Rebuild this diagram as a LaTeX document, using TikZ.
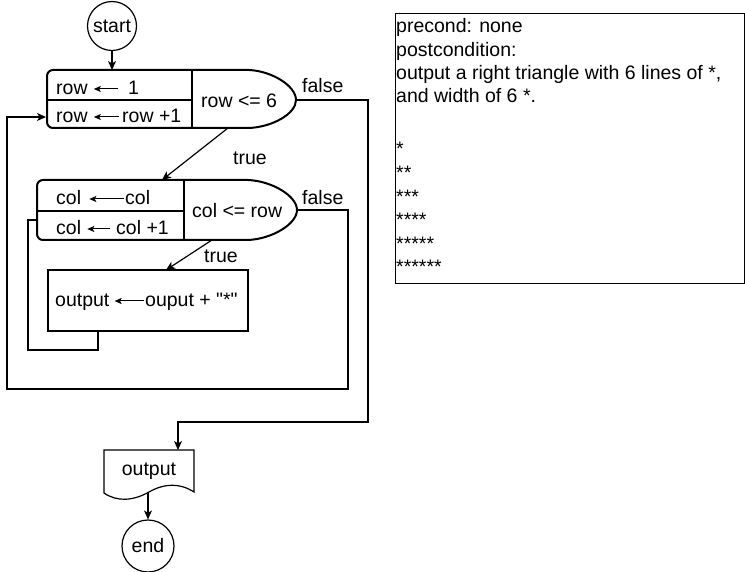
\documentclass[tikz,border=0pt]{standalone}
\usepackage{fontspec}
\setmainfont{Liberation Sans}[Ligatures=TeXOff]
\usetikzlibrary{arrows.meta,calc}
\begin{document}
\begin{tikzpicture}[x=1pt,y=-1pt,
  font=\fontsize{19.5}{23.4}\selectfont,
  line/.style={line width=1.2pt},
  flow/.style={line width=1.2pt, -{Stealth[length=9pt,width=8pt,inset=2.5pt]}},
  loopline/.style={line width=2pt, line join=round},
  txt/.style={inner sep=0pt, anchor=base west, text height=15pt, text depth=3pt},
  tarrow/.style={line width=1pt, -{Stealth[length=7pt,width=6pt,inset=1.5pt]}},
  term/.style={draw, line width=1.2pt, circle, inner sep=0pt},
]
\useasboundingbox (0,0) rectangle (745,572);

% ---------- start ----------
\node[term, minimum size=49pt] (start) at (112,26) {start};
\coordinate (A-in) at (112,70);
\draw[flow] (start) -- (A-in);

% ---------- outer loop: row ----------
\draw[loopline] (249,70) [rounded corners=6pt] -- (47,70) -- (47,128) [sharp corners] -- (249,128)
  .. controls (272,127) and (296,114) .. (296,100)
  .. controls (296,86) and (272,71) .. (249,70) -- cycle;
\draw[line] (192,70) -- (192,128);
\draw[line] (47,100) -- (192,100);
\coordinate (A-tip) at (296,100);
\coordinate (A-left) at (46,117);
\coordinate (A-out) at (228,128);

\node[txt] (a1l) at (56,95) {row};
\node[txt] (a1r) at (128,95) {1};
\draw[tarrow] ([xshift=-10pt]a1r.west) -- ([xshift=6pt]a1l.east);
\node[txt] (a2l) at (56,123) {row};
\node[txt] (a2r) at (122,123) {row +1};
\draw[tarrow] ([xshift=-3pt]a2r.west) -- ([xshift=6pt]a2l.east);
\node[txt] (acond) at (201,108) {row <= 6};
\node[txt] (afalse) at (302,93) {false};

% ---------- inner loop: col ----------
\draw[loopline] (248,180) [rounded corners=6pt] -- (37,180) -- (37,240) [sharp corners] -- (248,240)
  .. controls (272,239) and (297,224) .. (297,210)
  .. controls (297,196) and (272,181) .. (248,180) -- cycle;
\draw[line] (184,180) -- (184,240);
\draw[line] (37,211) -- (184,211);
\coordinate (B-in) at (162,180);
\coordinate (B-tip) at (297,210);
\coordinate (B-left) at (37,220);
\coordinate (B-out) at (212,240);

\node[txt] (b1l) at (56,205) {col};
\node[txt] (b1r) at (125,205) {col};
\draw[tarrow] ([xshift=-1pt]b1r.west) -- ([xshift=8pt]b1l.east);
\node[txt] (b2l) at (56,235) {col};
\node[txt] (b2r) at (116,235) {col +1};
\draw[tarrow] ([xshift=-6pt]b2r.west) -- ([xshift=6pt]b2l.east);
\node[txt] (bcond) at (192,218) {col <= row};
\node[txt] (bfalse) at (302,205) {false};

\draw[flow] (A-out) -- (B-in);
\node[txt] (atrue) at (233,165) {true};

% ---------- body ----------
\node[draw, line width=1.2pt, minimum width=200pt, minimum height=61pt, inner sep=0pt] (body) at (148,300.5) {};
\node[txt] (c1l) at (55,307) {output};
\node[txt] (c1r) at (145,307) {ouput + "*"};
\draw[tarrow] ([xshift=-1pt]c1r.west) -- ([xshift=5pt]c1l.east);
\coordinate (C-in) at (166,270);
\coordinate (C-out) at (98,331);

\draw[flow] (B-out) -- (C-in);
\node[txt] (btrue) at (204,263) {true};

% back edges
\draw[line] (C-out) -- (98,350) -- (28,350) |- (B-left);
\draw[flow] (B-tip) -- (348,210) -- (348,389) -- (7,389) |- (A-left);

% ---------- output document ----------
\draw[line] (104,493) -- (104,450) -- (194,450) -- (194,492)
  .. controls (180,483) and (165,483) .. (149,492)
  .. controls (133,501) and (117,502) .. (104,493) -- cycle;
\node[inner sep=0pt, anchor=base] (doc) at (149,475) {output};
\coordinate (D-in) at (178,450);
\coordinate (D-out) at (148,493);
\draw[flow] (A-tip) -- (368,100) -- (368,422) -| (D-in);

% ---------- end ----------
\node[term, minimum size=52pt] (end) at (148,546) {end};
\draw[flow] (D-out) -- (end);

% ---------- specification ----------
\node[draw, line width=1.2pt, minimum width=349pt, minimum height=270pt, inner sep=0pt, anchor=north west] (note) at (395,13) {};
\node[txt] (n1) at (396,33) {precond: none};
\node[txt] (n2) at (396,57) {postcondition:};
\node[txt] (n3) at (396,80) {output a right triangle with 6 lines of *,};
\node[txt] (n4) at (396,103) {and width of 6 *.};
\node[txt] (s1) at (396,156) {*};
\node[txt] (s2) at (396,179.6) {**};
\node[txt] (s3) at (396,203.2) {***};
\node[txt] (s4) at (396,226.8) {****};
\node[txt] (s5) at (396,250.4) {*****};
\node[txt] (s6) at (396,274) {******};
\end{tikzpicture}
\end{document}
